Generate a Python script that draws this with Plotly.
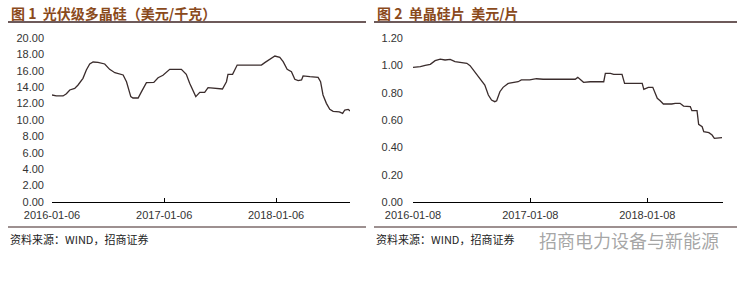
import plotly.graph_objects as go

W, H = 739, 282

# ---------------- data ----------------
poly_dates = ["2016-01-06", "2016-01-20", "2016-02-11", "2016-02-22", "2016-03-04", "2016-03-20",
              "2016-03-31", "2016-04-16", "2016-04-27", "2016-05-08", "2016-05-19", "2016-06-04",
              "2016-06-26", "2016-07-12", "2016-07-29", "2016-08-25", "2016-09-05", "2016-09-19",
              "2016-09-26", "2016-10-13", "2016-10-24", "2016-11-09", "2016-12-03", "2016-12-17",
              "2017-01-02", "2017-01-24", "2017-03-03", "2017-03-19", "2017-03-30", "2017-04-10",
              "2017-04-19", "2017-05-02", "2017-05-18", "2017-05-29", "2017-06-14", "2017-07-15",
              "2017-07-28", "2017-08-02", "2017-08-17", "2017-09-01", "2017-09-20", "2017-11-19",
              "2017-11-30", "2017-12-16", "2018-01-02", "2018-01-18", "2018-01-29", "2018-02-11",
              "2018-02-25", "2018-03-08", "2018-03-19", "2018-03-30", "2018-04-04", "2018-04-26",
              "2018-05-23", "2018-05-31", "2018-06-08", "2018-06-19", "2018-06-30", "2018-07-11",
              "2018-07-31", "2018-08-11", "2018-08-18", "2018-08-29", "2018-09-04"]
poly_values = [13.05, 12.93, 12.93, 13.2, 13.66, 13.86,
               14.27, 15.08, 16.1, 16.83, 17.07, 17.03,
               16.83, 16.18, 15.77, 15.49, 14.67, 12.85,
               12.68, 12.68, 13.46, 14.55, 14.59, 15.16,
               15.45, 16.18, 16.18, 15.57, 14.47, 13.46,
               12.85, 13.37, 13.37, 13.94, 13.9, 13.78,
               14.67, 15.57, 15.57, 16.7, 16.7, 16.7,
               17.0, 17.4, 17.8, 17.64, 17.11, 16.18,
               15.89, 14.96, 14.8, 14.88, 15.37, 15.28,
               15.2, 14.67, 13.05, 12.03, 11.3, 11.06,
               10.98, 10.81, 11.22, 11.3, 11.1]

wafer_dates = ["2016-01-08", "2016-01-31", "2016-02-15", "2016-03-02", "2016-03-17", "2016-04-02",
               "2016-04-17", "2016-05-03", "2016-05-18", "2016-06-08", "2016-06-24", "2016-07-04",
               "2016-07-14", "2016-07-25", "2016-08-04", "2016-08-19", "2016-08-30", "2016-09-09",
               "2016-09-19", "2016-09-25", "2016-10-05", "2016-10-15", "2016-10-31", "2016-11-15",
               "2016-12-01", "2016-12-11", "2017-01-06", "2017-01-27", "2017-02-17", "2017-03-20",
               "2017-05-28", "2017-06-05", "2017-06-13", "2017-06-23", "2017-07-14", "2017-08-25",
               "2017-08-30", "2017-09-15", "2017-09-25", "2017-10-21", "2017-10-29", "2017-11-27",
               "2017-12-23", "2017-12-28", "2018-01-11", "2018-01-25", "2018-02-01", "2018-02-08",
               "2018-02-17", "2018-02-27", "2018-03-25", "2018-04-05", "2018-04-20", "2018-05-01",
               "2018-05-22", "2018-05-27", "2018-06-12", "2018-06-17", "2018-06-28", "2018-07-03",
               "2018-07-19", "2018-07-29", "2018-08-05", "2018-08-19", "2018-08-29"]
wafer_values = [0.985, 0.99, 1.0, 1.007, 1.034, 1.046,
                1.039, 1.044, 1.027, 1.02, 1.015, 0.998,
                0.966, 0.929, 0.905, 0.856, 0.783, 0.746,
                0.734, 0.741, 0.807, 0.839, 0.868, 0.876,
                0.88, 0.893, 0.893, 0.902, 0.898, 0.898,
                0.898, 0.912, 0.898, 0.876, 0.88, 0.88,
                0.941, 0.941, 0.934, 0.934, 0.868, 0.868,
                0.868, 0.824, 0.839, 0.839, 0.795, 0.759,
                0.741, 0.717, 0.717, 0.722, 0.722, 0.702,
                0.698, 0.668, 0.668, 0.568, 0.551, 0.515,
                0.507, 0.49, 0.466, 0.466, 0.471]

poly_ticks = ["2016-01-06", "2017-01-06", "2018-01-06"]
wafer_ticks = ["2016-01-08", "2017-01-08", "2018-01-08"]
poly_range = ["2016-01-06", "2018-09-04"]
wafer_range = ["2016-01-08", "2018-09-01"]

title1 = "图 1  光伏级多晶硅（美元/千克）"
title2 = "图 2  单晶硅片  美元/片"
source = "资料来源：WIND，招商证券"
watermark = "招商电力设备与新能源"

# ---------------- styling ----------------
LINE = "#3a2c2c"
TITLE_C = "#8a4a1c"
RULE_C = "#3d2323"
TXT = "#333333"
FONT = "Liberation Sans, Arial, sans-serif"
CJK = "Noto Sans CJK SC"


def px(x):
    return x / W


def py(y):
    return 1 - y / H


fig = go.Figure()
fig.add_trace(go.Scatter(x=poly_dates, y=poly_values, mode="lines",
                         line=dict(color=LINE, width=1.3), xaxis="x", yaxis="y",
                         showlegend=False, hoverinfo="skip"))
fig.add_trace(go.Scatter(x=wafer_dates, y=wafer_values, mode="lines",
                         line=dict(color=LINE, width=1.3), xaxis="x2", yaxis="y2",
                         showlegend=False, hoverinfo="skip"))

xcommon = dict(type="date", showgrid=False, zeroline=False, showline=True, automargin=False,
               linecolor="#000000", linewidth=1, ticks="inside", ticklen=4,
               tickcolor="#000000", ticklabelstandoff=3,
               tickfont=dict(family=FONT, size=11, color=TXT))
ycommon = dict(showgrid=False, zeroline=False, showline=False, ticks="", automargin=False,
               tickformat=".2f", tickfont=dict(family=FONT, size=11, color=TXT))

fig.update_layout(
    width=W, height=H,
    margin=dict(l=0, r=0, t=0, b=0),
    paper_bgcolor="white", plot_bgcolor="white",
    xaxis=dict(domain=[px(52), px(350)], range=poly_range, tickvals=poly_ticks,
               ticktext=poly_ticks, anchor="y", **xcommon),
    yaxis=dict(domain=[py(202), py(38)], range=[0, 20], tickvals=list(range(0, 21, 2)),
               anchor="x", ticklabelstandoff=7, **ycommon),
    xaxis2=dict(domain=[px(413), px(723)], range=wafer_range, tickvals=wafer_ticks,
                ticktext=wafer_ticks, anchor="y2", **xcommon),
    yaxis2=dict(domain=[py(202), py(38)], range=[0, 1.2],
                tickvals=[0, 0.2, 0.4, 0.6, 0.8, 1.0, 1.2],
                anchor="x2", ticklabelstandoff=9, **ycommon),
)

shapes = []
for x0, x1 in [(8, 366), (374, 737)]:
    shapes.append(dict(type="line", xref="paper", yref="paper", x0=px(x0), x1=px(x1),
                       y0=py(22), y1=py(22), line=dict(color=RULE_C, width=1.5)))
    shapes.append(dict(type="line", xref="paper", yref="paper", x0=px(x0), x1=px(x1),
                       y0=py(227), y1=py(227), line=dict(color=RULE_C, width=1.2)))
fig.update_layout(shapes=shapes)

ann = []
for x, t in [(9, title1), (375, title2)]:
    ann.append(dict(xref="paper", yref="paper", x=px(x), y=py(13), xanchor="left",
                    yanchor="middle", showarrow=False, text="<b>" + t + "</b>",
                    font=dict(family=CJK, size=14, color=TITLE_C)))
for x in [8, 374]:
    ann.append(dict(xref="paper", yref="paper", x=px(x), y=py(239), xanchor="left",
                    yanchor="middle", showarrow=False, text=source,
                    font=dict(family=CJK, size=11, color="#222222")))
ann.append(dict(xref="paper", yref="paper", x=px(537), y=py(240), xanchor="left",
                yanchor="middle", showarrow=False, text=watermark,
                font=dict(family=CJK, size=18, color="rgba(150,150,150,0.85)")))
fig.update_layout(annotations=ann)

fig.write_html("out.html")
